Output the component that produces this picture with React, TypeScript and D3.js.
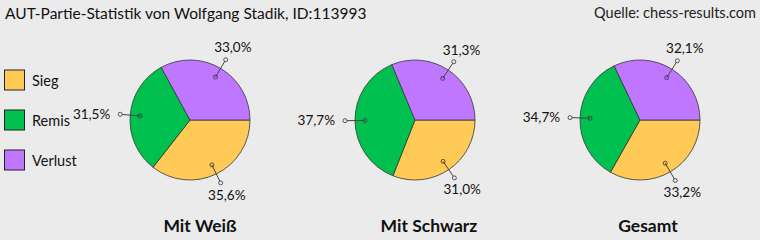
import React from "react";
import * as d3 from "d3";

const W = 760;
const H = 240;

const categories = ["Sieg", "Remis", "Verlust"];
const colors = ["#FFCA55", "#00C050", "#C077FF"];
const groups = ["Mit Weiß", "Mit Schwarz", "Gesamt"];
const mitWeiss = [35.6, 31.5, 33.0];
const mitSchwarz = [31.0, 37.7, 31.3];
const gesamt = [33.2, 34.7, 32.1];
const seriesValues = [mitWeiss, mitSchwarz, gesamt];
const title = "AUT-Partie-Statistik von Wolfgang Stadik, ID:113993";
const source = "Quelle: chess-results.com";

const pieCentersX = [190, 415, 640];
const groupLabelX = [200, 429, 648];
const R = 60;
const FONT = "Lato, 'Open Sans', sans-serif";

const fmt = (v: number) => v.toFixed(1).replace(".", ",") + "%";

function Pie({ values, cx }: { values: number[]; cx: number }) {
  const cy = 120;
  // start at 3 o'clock, clockwise
  const pie = d3
    .pie<number>()
    .sort(null)
    .startAngle(Math.PI / 2)
    .endAngle(Math.PI / 2 + 2 * Math.PI);
  const arcs = pie(values);
  const arc = d3.arc<d3.PieArcDatum<number>>().innerRadius(0).outerRadius(R);
  return (
    <g>
      <g transform={`translate(${cx},${cy})`}>
        {arcs.map((a, i) => (
          <path key={i} d={arc(a) || ""} fill={colors[i]} stroke="#333" strokeWidth={0.8} strokeLinejoin="round" />
        ))}
      </g>
      {arcs.map((a, i) => {
        const mid = (a.startAngle + a.endAngle) / 2;
        const dx = Math.sin(mid);
        const dy = -Math.cos(mid);
        const x1 = cx + dx * 50;
        const y1 = cy + dy * 50;
        const x2 = cx + dx * 70;
        const y2 = cy + dy * 70;
        let tx: number, ty: number, anchor: string;
        if (Math.abs(dx) > 0.8) {
          anchor = dx < 0 ? "end" : "start";
          tx = x2 + dx * 10;
          ty = y2 + 4.5;
        } else {
          anchor = "middle";
          tx = x2 + dx * 14;
          ty = y2 + dy * 14 + 4.5;
        }
        return (
          <g key={"l" + i}>
            <line x1={x1} y1={y1} x2={x2} y2={y2} stroke="#444" strokeWidth={1} />
            <circle cx={x1} cy={y1} r={2} fill="none" stroke="#333" strokeWidth={0.8} />
            <circle cx={x2} cy={y2} r={2} fill="#ebebeb" stroke="#333" strokeWidth={0.8} />
            <text x={tx} y={ty} textAnchor={anchor} fontSize={13.5} fontFamily={FONT} fill="#111">
              {fmt(values[i])}
            </text>
          </g>
        );
      })}
    </g>
  );
}

export default function App() {
  const legendY = d3.scalePoint<string>().domain(categories).range([80, 160]);
  return (
    <svg
      width={W}
      height={H}
      style={{ position: "fixed", left: 0, top: 0, display: "block" }}
    >
      <rect x={0} y={0} width={W} height={H} fill="#ebebeb" />
      <text x={5} y={19} fontSize={15.5} fontFamily={FONT} fill="#111">
        {title}
      </text>
      <text x={756} y={18} textAnchor="end" fontSize={14.5} fontFamily={FONT} fill="#222">
        {source}
      </text>
      {categories.map((c, i) => (
        <g key={c}>
          <rect x={4.5} y={(legendY(c) as number) - 10} width={20} height={20} fill={colors[i]} stroke="#222" strokeWidth={1} />
          <text x={32} y={(legendY(c) as number) + 6} fontSize={14.5} fontFamily={FONT} fill="#111">
            {c}
          </text>
        </g>
      ))}
      {seriesValues.map((vals, gi) => (
        <g key={gi}>
          <Pie values={vals} cx={pieCentersX[gi]} />
          <text x={groupLabelX[gi]} y={232} textAnchor="middle" fontSize={17.5} fontWeight="bold" fontFamily={FONT} fill="#111">
            {groups[gi]}
          </text>
        </g>
      ))}
    </svg>
  );
}
